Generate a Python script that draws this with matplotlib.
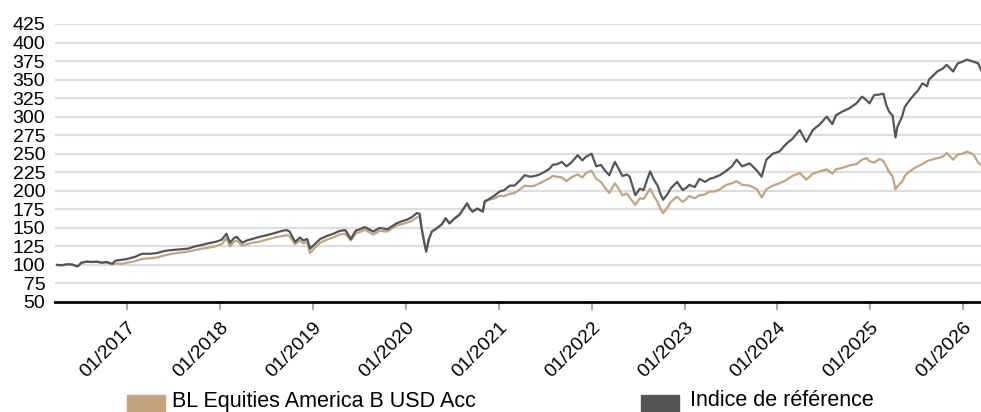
import matplotlib
matplotlib.use("Agg")
import matplotlib.pyplot as plt
from matplotlib.patches import Rectangle

# ---- data (decimal years, index values) ----
years = [
    2016.25, 2016.30, 2016.36, 2016.41, 2016.47, 2016.51, 2016.57, 2016.62, 2016.68, 2016.73, 2016.78, 2016.84, 2016.88, 2016.95,
    2017.00, 2017.09, 2017.16, 2017.25, 2017.32, 2017.41, 2017.48, 2017.57, 2017.66, 2017.73, 2017.81, 2017.87, 2017.95,
    2018.02, 2018.07, 2018.11, 2018.15, 2018.18, 2018.24, 2018.29, 2018.35, 2018.43, 2018.50, 2018.59, 2018.67, 2018.72, 2018.75, 2018.81, 2018.86, 2018.90, 2018.94, 2018.97,
    2019.02, 2019.08, 2019.15, 2019.22, 2019.29, 2019.35, 2019.41, 2019.46, 2019.56, 2019.65, 2019.72, 2019.80, 2019.85, 2019.90, 2019.96,
    2020.01, 2020.06, 2020.12, 2020.15, 2020.17, 2020.20, 2020.22, 2020.25, 2020.28, 2020.33, 2020.39, 2020.43, 2020.47, 2020.52, 2020.58, 2020.66, 2020.69, 2020.72, 2020.77, 2020.83, 2020.85, 2020.90, 2020.96,
    2021.01, 2021.06, 2021.12, 2021.17, 2021.23, 2021.28, 2021.34, 2021.39, 2021.44, 2021.50, 2021.55, 2021.58, 2021.63, 2021.68, 2021.73, 2021.78, 2021.85, 2021.90, 2021.94,
    2022.00, 2022.05, 2022.10, 2022.14, 2022.19, 2022.25, 2022.29, 2022.33, 2022.38, 2022.41, 2022.47, 2022.52, 2022.56, 2022.60, 2022.63, 2022.67, 2022.71, 2022.74, 2022.77, 2022.82, 2022.85, 2022.92, 2022.98,
    2023.02, 2023.05, 2023.11, 2023.16, 2023.22, 2023.27, 2023.32, 2023.38, 2023.45, 2023.51, 2023.56, 2023.62, 2023.70, 2023.75, 2023.78, 2023.83, 2023.88, 2023.95,
    2024.02, 2024.10, 2024.16, 2024.24, 2024.31, 2024.38, 2024.45, 2024.53, 2024.59, 2024.63, 2024.70, 2024.77, 2024.85, 2024.91, 2024.96, 2024.99,
    2025.04, 2025.10, 2025.14, 2025.17, 2025.20, 2025.24, 2025.27, 2025.29, 2025.34, 2025.37, 2025.42, 2025.48, 2025.51, 2025.56, 2025.61, 2025.63, 2025.72, 2025.78, 2025.82, 2025.89, 2025.94, 2025.99,
    2026.04, 2026.11, 2026.16, 2026.19,
]

benchmark = [
    100, 99.5, 101, 100.5, 98, 103, 104.5, 104, 104.5, 103, 104, 101.5, 106, 107,
    108, 111, 115, 115, 116, 119, 120, 121, 122, 125, 127, 129, 131,
    134, 142, 130, 136, 138, 130, 133, 135, 138, 140, 143, 146, 147, 145, 131, 137, 133, 135, 122,
    128, 135, 139, 142, 146, 147, 135, 146, 151, 145, 150, 148, 152, 156, 159,
    161, 164, 170, 169, 150, 130, 118, 135, 145, 149, 155, 163, 156, 162, 168, 183, 176, 172, 176, 172, 186, 189, 194,
    199, 201, 207, 207, 214, 221, 219, 220, 222, 226, 230, 235, 236, 239, 233, 238, 248, 241, 246,
    250, 233, 235, 228, 221, 239, 230, 220, 222, 219, 194, 203, 201, 216, 226, 215, 207, 196, 188, 196, 203, 212, 201,
    204, 208, 205, 216, 212, 216, 218, 221, 227, 233, 242, 233, 237, 231, 227, 219, 242, 250,
    253, 264, 270, 282, 266, 282, 289, 300, 290, 302, 307, 311, 318, 327, 322, 318,
    329, 330, 331, 316, 307, 301, 272, 286, 300, 313, 322, 331, 335, 345, 341, 350, 361, 365, 370, 361, 372, 374,
    377, 374, 372, 363,
]

fund = [
    100, 99.5, 101, 100.5, 98, 103, 104.5, 104, 104, 103, 103.5, 101, 102, 101.5,
    103, 105, 108, 109, 110, 113, 115, 116.5, 118, 120, 122, 123, 125,
    128, 136, 125, 131, 133, 126, 128, 130, 131.5, 134, 137, 139, 140, 139, 128, 133, 129, 131, 116,
    123, 130, 134, 137, 141, 142, 133, 142, 147.5, 141, 146, 145, 149, 153, 155,
    157, 159, 164, 166, 150, 130, 118, 135, 145, 149, 155, 163, 156, 162, 168, 183, 176, 172, 176, 172, 185, 188, 190,
    193, 193, 196, 197, 202, 207, 206, 207, 210, 214, 217, 220, 219, 218, 213, 218, 222, 218, 224,
    227, 216, 212, 205, 197, 210, 203, 194, 196, 191, 181, 190, 189, 197, 203, 193, 185, 176, 170, 178, 185, 192, 185,
    189, 193, 190, 194, 195, 199, 199, 202, 208, 210, 213, 208, 207, 204, 202, 191, 202, 207,
    210, 215, 220, 224, 215, 223, 226, 229, 223, 229, 231, 234, 236, 242, 244, 240,
    238, 243, 240, 233, 226, 219, 202, 206, 212, 220, 226, 231, 233, 236, 240, 241, 244, 246, 251, 242, 249, 250,
    253, 249, 238, 235,
]

fund_label = "BL Equities America B USD Acc"
bench_label = "Indice de référence"
tick_years = list(range(2017, 2027))
tick_labels = [f"01/{y}" for y in tick_years]
y_ticks = list(range(50, 426, 25))

fund_color = "#C4A47C"
bench_color = "#555555"

plt.rcParams['font.family'] = ['Liberation Sans', 'DejaVu Sans']

W, H = 981, 412
fig = plt.figure(figsize=(W / 100, H / 100), dpi=100)
ax = fig.add_axes([55 / W, 1 - 302 / H, 1 - 55 / W, (302 - 24) / H])

ax.plot(years, fund, color=fund_color, lw=1.6, zorder=3)
ax.plot(years, benchmark, color=bench_color, lw=1.6, zorder=4)

ax.set_xlim(2016.226, 2026.19)
ax.set_ylim(50, 425)
ax.set_yticks(y_ticks)
ax.set_yticklabels([str(v) for v in y_ticks], fontsize=14)
ax.tick_params(axis='y', length=0, pad=7)
for v in y_ticks[1:]:
    ax.axhline(v, color="#dddddd", lw=1.6, zorder=1)

ax.set_xticks(tick_years)
ax.set_xticklabels(tick_labels, rotation=45, ha='right', rotation_mode='anchor', fontsize=14)
ax.tick_params(axis='x', length=6, width=1.2, color="#999999", pad=6)

for s in ['left', 'right', 'top']:
    ax.spines[s].set_visible(False)
ax.spines['bottom'].set_color('black')
ax.spines['bottom'].set_linewidth(2)
ax.spines['bottom'].set_zorder(5)

# legend drawn on the figure
fig.patches.append(Rectangle((127 / W, 0), 38 / W, 17 / H, transform=fig.transFigure,
                             color=fund_color, clip_on=False))
fig.text(172 / W, 5.5 / H, fund_label, fontsize=15.5, va='baseline', ha='left')
fig.patches.append(Rectangle((641 / W, 0), 38 / W, 17 / H, transform=fig.transFigure,
                             color=bench_color, clip_on=False))
fig.text(690 / W, 5.5 / H, bench_label, fontsize=15.5, va='baseline', ha='left')

fig.savefig("out.png", dpi=100)
